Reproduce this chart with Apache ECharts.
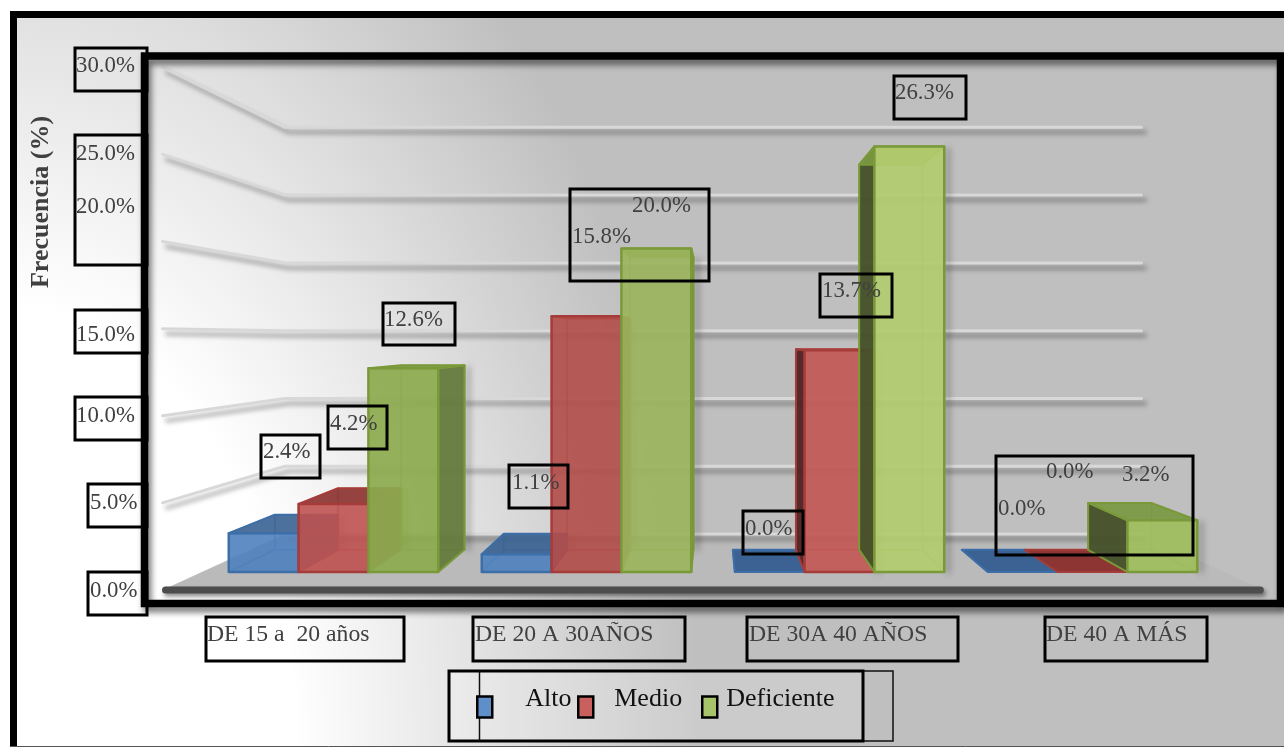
<!DOCTYPE html>
<html>
<head>
<meta charset="utf-8">
<title>Frecuencia por grupo de edad</title>
<style>
html,body{margin:0;padding:0;background:#fff;overflow:hidden}
#wrap{position:relative;width:1284px;height:747px}
#paper{position:absolute;left:10px;top:11px;right:0;bottom:0;
  background:radial-gradient(ellipse 700px 1050px at -10px 736px,#fff 0%,#fff 42%,#e0e0e0 71%,#bfbfbf 100%)}
#chart{position:absolute;left:0;top:0;width:1284px;height:747px}
</style>
<script src="https://cdn.jsdelivr.net/npm/echarts@6/dist/echarts.min.js"></script>
</head>
<body>
<div id="wrap"><div id="paper"></div><div id="chart"></div></div>
<script>
// Values (%)
const categories = ['DE 15 a  20 años', 'DE 20 A 30AÑOS', 'DE 30A 40 AÑOS', 'DE 40 A MÁS'];
const alto = [2.4, 1.1, 0.0, 0.0];
const medio = [4.2, 15.8, 13.7, 0.0];
const deficiente = [12.6, 20.0, 26.3, 3.2];
const yTicks = [0, 5, 10, 15, 20, 25, 30];
const axisTitle = 'Frecuencia (%)';

// Perspective: everything recedes towards one vanishing point
const VP = [714, 338];
const DEPTH_BAR = 0.905, DEPTH_FRONT = 1.077, DEPTH_BACK = 0.838;
const project = (p, k) => [VP[0] + (p[0] - VP[0]) * k, VP[1] + (p[1] - VP[1]) * k];

const SERIF = '"Liberation Serif","Times New Roman",serif';
const TICK_FONT = '22.8px ' + SERIF;
const CAT_FONT = '23.7px ' + SERIF;
const TEXT = '#404040';

const palette = {
  Alto: {
    front: ['rgba(79,129,189,.9)', 'rgba(79,129,189,.9)', 'rgba(79,129,189,.9)', 'rgba(79,129,189,.9)'],
    edge: '#3c6ea8', top: 'rgba(58,98,146,.9)', sideNear: 'rgba(60,96,140,.9)', sideFar: 'rgba(50,82,122,.9)', swatch: '#5f8fc8'
  },
  Medio: {
    front: ['rgba(190,82,80,.9)', 'rgba(178,76,74,.9)', 'rgba(194,88,85,.92)', 'rgba(190,82,80,.9)'],
    edge: '#a63c3a', top: 'rgba(140,52,50,.92)', sideNear: 'rgba(140,60,58,.92)', sideFar: 'rgba(80,34,33,.95)', swatch: '#c9605d'
  },
  Deficiente: {
    front: ['rgba(140,170,78,.92)', 'rgba(154,180,92,.92)', 'rgba(178,204,110,.92)', 'rgba(160,190,92,.92)'],
    edge: '#7a9a3a', top: 'rgba(122,152,66,.92)', sideNear: 'rgba(100,122,60,.95)', sideFar: 'rgba(68,80,40,.95)', swatch: '#a8c46a'
  }
};

// Left end and vertical centre of each value label, per series
const valueLabelAt = {
  Alto: [[263, 452], [512, 483], [745, 529], [998, 509]],
  Medio: [[330, 424], [572, 237], [822, 291], [1046, 472]],
  Deficiente: [[384, 320], [632, 206], [895, 93], [1122, 475]]
};
const yTickAt = [[90, 591], [90, 503], [76, 416], [76, 335], [76, 207], [76, 154], [76, 66]];
const xLabelAt = [[207, 635], [475, 635], [749, 635], [1046, 635]];

// Frames around the labels: x0, y0, x1, y1
const labelBoxes = [
  [75, 48, 147, 91], [75, 135, 147, 265], [75, 310, 147, 353], [75, 397, 147, 440],
  [88, 484, 147, 527], [88, 572, 147, 615],
  [206, 617, 404, 661], [473, 617, 685, 661], [747, 617, 958, 661], [1045, 617, 1207, 661],
  [383, 303, 455, 345], [328, 406, 387, 449], [261, 435, 320, 478],
  [570, 189, 709, 281], [509, 465, 568, 508], [894, 76, 966, 119],
  [820, 274, 892, 317], [743, 511, 803, 554], [996, 456, 1193, 555]
];

function poly(points, fill, stroke, lw, extra) {
  return {
    type: 'polygon',
    shape: { points: points },
    style: Object.assign({ fill: fill, stroke: stroke || 'none', lineWidth: lw || 0, lineJoin: 'round' }, extra || {}),
    silent: true
  };
}

// One translucent 3D column, projected from the value axis
function barRenderer(name, slot) {
  const colours = palette[name];
  return function (params, api) {
    const cat = api.value(0), val = api.value(1);
    const base = api.coord([cat, 0]), head = api.coord([cat, val]);
    const band = api.size([1, 0])[0];
    const w = band * 0.276;
    const x0 = base[0] + (slot - 1.5) * w, x1 = x0 + w;
    const fBL = [x0, base[1]], fBR = [x1, base[1]], fTL = [x0, head[1]], fTR = [x1, head[1]];
    const bk = p => project(p, DEPTH_BAR);
    const bBL = bk(fBL), bBR = bk(fBR), bTL = bk(fTL), bTR = bk(fTR);
    const edge = colours.edge;
    const leftOfEye = (x0 + x1) / 2 < VP[0];
    const outer = leftOfEye ? [fBR, bBR, bTR, fTR] : [fBL, bBL, bTL, fTL];
    const inner = leftOfEye ? [fBL, bBL, bTL, fTL] : [fBR, bBR, bTR, fTR];
    const rightEdge = leftOfEye ? [bBR, bTR] : [fBR, fTR];
    const children = [];
    if (val > 0) {
      children.push({
        type: 'polyline', shape: { points: rightEdge }, silent: true,
        style: { stroke: edge, lineWidth: 2, fill: 'none', shadowBlur: 6, shadowOffsetX: 4, shadowOffsetY: 1, shadowColor: 'rgba(0,0,0,.55)' }
      });
    }
    children.push(poly([bBL, bBR, bTR, bTL], 'rgba(255,255,255,.03)', edge, 1.5, { opacity: 0.4 }));
    children.push(poly([fBL, fBR, bBR, bBL], val > 0 ? 'rgba(255,255,255,.04)' : colours.top, edge, 1.5, { opacity: val > 0 ? 0.45 : 1 }));
    children.push(poly(inner, 'rgba(0,0,0,.03)', edge, 1.5, { opacity: 0.4 }));
    if (val > 0) children.push(poly(outer, leftOfEye ? colours.sideNear : colours.sideFar, edge, 2));
    children.push(poly([fTL, fTR, bTR, bTL], colours.top, edge, 2));
    if (val > 0) children.push(poly([fBL, fBR, fTR, fTL], colours.front[cat], edge, 2.5));
    return { type: 'group', children: children };
  };
}

// Value labels sit above every column, so they get their own series
function labelRenderer(name) {
  return function (params, api) {
    const at = valueLabelAt[name][api.value(0)];
    return {
      type: 'text', x: at[0], y: at[1], silent: true,
      style: { text: api.value(1).toFixed(1) + '%', font: TICK_FONT, fill: TEXT, align: 'left', verticalAlign: 'middle' }
    };
  };
}

function renderFloor(params, api) {
  const c0 = api.coord([0, 0]);
  const band = api.size([1, 0])[0];
  const centre = c0[0] + band * 1.5;
  const L = [centre - band * 2.02, c0[1]], R = [centre + band * 2.02, c0[1]];
  const fL = project(L, DEPTH_FRONT), fR = project(R, DEPTH_FRONT);
  const bL = project(L, DEPTH_BACK), bR = project(R, DEPTH_BACK);
  return {
    type: 'group',
    children: [
      poly([bL, bR, fR, fL], '#bababa'),
      {
        type: 'line', silent: true,
        shape: { x1: fL[0] + 3, y1: fL[1], x2: fR[0] - 3, y2: fR[1] },
        style: { stroke: '#4d4d4d', lineWidth: 7, lineCap: 'round', shadowBlur: 4, shadowOffsetY: 3, shadowOffsetX: 2, shadowColor: 'rgba(0,0,0,.45)' }
      }
    ]
  };
}

// Gridline running along the side wall and then across the back wall
function renderGridline(params, api) {
  const v = api.value(1);
  const c = api.coord([0, v]);
  const band = api.size([1, 0])[0];
  const centre = api.coord([0, 0])[0] + band * 1.5;
  const L = [centre - band * 2.02, c[1]], R = [centre + band * 2.02, c[1]];
  const front = project(L, DEPTH_FRONT), bL = project(L, DEPTH_BACK), bR = project(R, DEPTH_BACK);
  const pts = v === 0 ? [bL, bR] : [front, bL, bR];
  return {
    type: 'polyline', silent: true,
    shape: { points: pts },
    style: {
      fill: 'none', stroke: '#d8d8d8', lineWidth: 3, lineJoin: 'round', lineCap: 'round',
      shadowBlur: 5, shadowOffsetX: 4, shadowOffsetY: 5, shadowColor: 'rgba(0,0,0,.4)'
    }
  };
}

function asPairs(values) { return values.map((v, i) => [i, v]); }

const boxEl = b => ({
  type: 'rect', z: 100, silent: true,
  shape: { x: b[0], y: b[1], width: b[2] - b[0], height: b[3] - b[1] },
  style: { fill: 'none', stroke: '#000', lineWidth: 3 }
});
const textEl = (text, at, font, fill) => ({
  type: 'text', z: 110, silent: true, x: at[0], y: at[1],
  style: { text: text, font: font, fill: fill, align: 'left', verticalAlign: 'middle' }
});

const graphicElements = [
  // Outer frame, open on the right
  { type: 'line', z: 100, silent: true, shape: { x1: 13.5, y1: 11, x2: 13.5, y2: 747 }, style: { stroke: '#000', lineWidth: 7 } },
  { type: 'line', z: 100, silent: true, shape: { x1: 10, y1: 14.5, x2: 1284, y2: 14.5 }, style: { stroke: '#000', lineWidth: 7 } },
  { type: 'line', z: 100, silent: true, shape: { x1: 10, y1: 746.5, x2: 1284, y2: 746.5 }, style: { stroke: '#555', lineWidth: 1 } },
  // Plot frame
  {
    type: 'rect', z: 100, silent: true,
    shape: { x: 144.5, y: 56, width: 1136, height: 547.5 },
    style: { fill: 'none', stroke: '#000', lineWidth: 7.5, shadowBlur: 6, shadowOffsetX: 3, shadowOffsetY: 5, shadowColor: 'rgba(0,0,0,.55)' }
  },
  // Legend frame
  { type: 'rect', z: 1, silent: true, shape: { x: 449, y: 671, width: 444, height: 70 }, style: { fill: 'rgba(255,255,255,0)', stroke: '#111', lineWidth: 1.5 } },
  { type: 'rect', z: 1, silent: true, shape: { x: 449, y: 671, width: 414, height: 70 }, style: { fill: 'rgba(255,255,255,.2)', stroke: '#000', lineWidth: 3 } },
  { type: 'line', z: 1, silent: true, shape: { x1: 479.5, y1: 671, x2: 479.5, y2: 741 }, style: { stroke: '#111', lineWidth: 1.5 } }
]
  .concat(labelBoxes.map(boxEl))
  .concat(yTicks.map((t, i) => textEl(t.toFixed(1) + '%', yTickAt[i], TICK_FONT, TEXT)))
  .concat(categories.map((c, i) => textEl(c, xLabelAt[i], CAT_FONT, TEXT)))
  .concat([{
    type: 'text', z: 110, silent: true, x: 41, y: 202, rotation: Math.PI / 2,
    style: { text: axisTitle, font: 'bold 26px ' + SERIF, fill: TEXT, align: 'center', verticalAlign: 'middle' }
  }]);

// One legend per entry: the gap between swatch and text differs for each
function legendFor(name, left, top, gap) {
  return {
    left: left, top: top, itemWidth: 15, itemHeight: 21, padding: 0, selectedMode: false,
    data: [{ name: name, icon: 'rect' }],
    itemStyle: { color: palette[name].swatch, borderColor: '#000', borderWidth: 2.5 },
    formatter: n => '{t|' + n + '}',
    textStyle: {
      rich: { t: { fontFamily: SERIF, fontSize: 26, color: '#111', padding: [0, 0, 16, gap] } }
    }
  };
}

const labelSeries = (name, values) => ({
  type: 'custom', name: name + ' (etiquetas)', coordinateSystem: 'cartesian2d', z: 10, silent: true,
  data: asPairs(values), encode: { x: 0, y: 1 }, renderItem: labelRenderer(name)
});
const barSeries = (name, values, slot) => ({
  type: 'custom', name: name, coordinateSystem: 'cartesian2d', z: 3 + slot,
  itemStyle: { color: palette[name].swatch },
  data: asPairs(values), encode: { x: 0, y: 1 }, renderItem: barRenderer(name, slot)
});

const chart = echarts.init(document.getElementById('chart'), null, { renderer: 'canvas' });
chart.setOption({
  animation: false,
  backgroundColor: 'transparent',
  grid: { left: 207, width: 1012, top: 86.6, height: 485.4 },
  xAxis: { type: 'category', data: categories, show: false },
  yAxis: { type: 'value', min: 0, max: 30, interval: 5, show: false },
  legend: [
    legendFor('Alto', 476, 686, 28),
    legendFor('Medio', 577, 686, 16),
    legendFor('Deficiente', 701, 686, 4)
  ],
  graphic: { elements: graphicElements },
  series: [
    { type: 'custom', name: 'Piso', coordinateSystem: 'cartesian2d', z: 1, silent: true, data: [[0, 0]], encode: { x: 0, y: 1 }, renderItem: renderFloor },
    { type: 'custom', name: 'Líneas', coordinateSystem: 'cartesian2d', z: 1, silent: true, data: yTicks.map(t => [0, t]), encode: { x: 0, y: 1 }, renderItem: renderGridline },
    barSeries('Alto', alto, 0),
    barSeries('Medio', medio, 1),
    barSeries('Deficiente', deficiente, 2),
    labelSeries('Alto', alto),
    labelSeries('Medio', medio),
    labelSeries('Deficiente', deficiente)
  ]
});
</script>
</body>
</html>
